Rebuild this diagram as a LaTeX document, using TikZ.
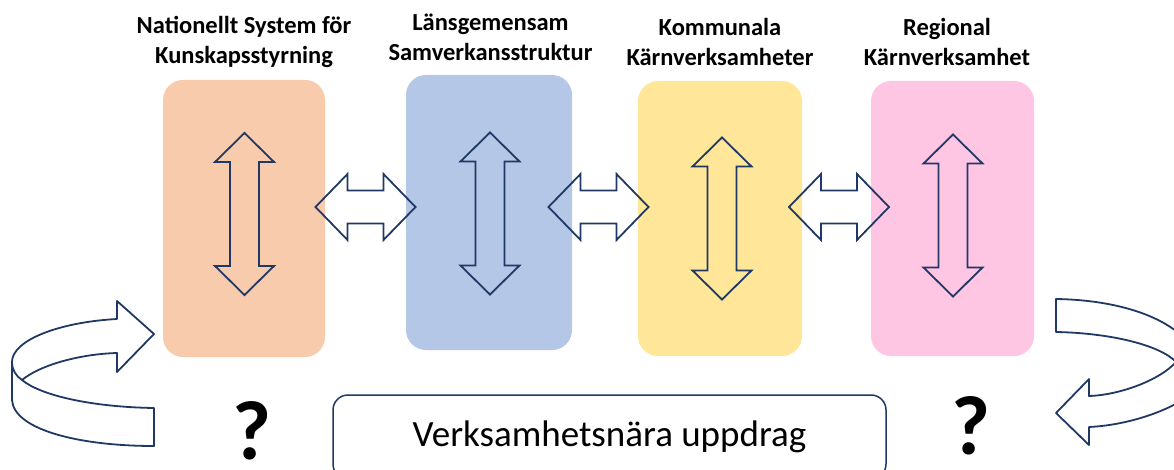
\documentclass[tikz,border=0pt]{standalone}
\usepackage{fontspec}
\setmainfont{Carlito}
\definecolor{navy}{HTML}{203864}
\definecolor{cOrange}{HTML}{F8CBAD}
\definecolor{cBlue}{HTML}{B4C7E7}
\definecolor{cYellow}{HTML}{FFE699}
\definecolor{cPink}{HTML}{FFC6E3}
\tikzset{
  ol/.style={draw=navy,line width=1.8pt,line join=miter},
  blk/.style={rounded corners=20pt,inner sep=0pt,draw=none},
  ttl/.style={font=\fontsize{24.5}{30}\selectfont\bfseries,align=center,inner sep=0pt},
  qm/.style={font=\fontsize{84}{84}\selectfont\bfseries,inner sep=0pt,text depth=0pt},
  vda/.pic={\draw[ol] (0,-81) -- (29.5,-52) -- (14.5,-52) -- (14.5,52) -- (29.5,52) -- (0,81)
            -- (-29.5,52) -- (-14.5,52) -- (-14.5,-52) -- (-29.5,-52) -- cycle;},
  hda/.pic={\draw[ol] (-50,0) -- (-18,-33) -- (-18,-16.5) -- (18,-16.5) -- (18,-33) -- (50,0)
            -- (18,33) -- (18,16.5) -- (-18,16.5) -- (-18,33) -- cycle;}
}
\begin{document}
\begin{tikzpicture}[x=1pt,y=-1pt]
\useasboundingbox (0,0) rectangle (1174,470);
\clip (0,0) rectangle (1174,470);

% coloured blocks
\node[blk,fill=cOrange,minimum width=162pt,minimum height=277pt] (nat) at (244,218.5) {};
\node[blk,fill=cBlue,minimum width=166pt,minimum height=275pt] (lan) at (489,212.5) {};
\node[blk,fill=cYellow,minimum width=164pt,minimum height=275pt] (kom) at (720,218.5) {};
\node[blk,fill=cPink,minimum width=163pt,minimum height=275pt] (reg) at (952.5,218.5) {};

% titles
\node[ttl] (tnat) at (244,42) {Nationellt System för\\Kunskapsstyrning};
\node[ttl] (tlan) at (490.5,37) {Länsgemensam\\Samverkansstruktur};
\node[ttl] (tkom) at (720,42) {Kommunala\\Kärnverksamheter};
\node[ttl] (treg) at (947,42) {Regional\\Kärnverksamhet};

% vertical double arrows inside the blocks
\pic at (244.5,214) {vda};
\pic at (490,213.5) {vda};
\pic at (722,218.5) {vda};
\pic at (953,215.5) {vda};

% horizontal double arrows between the blocks
\pic at (365.5,207) {hda};
\pic at (598.5,207) {hda};
\pic at (839,207) {hda};

% bottom box
\node[draw=navy,line width=1.5pt,rounded corners=15pt,minimum width=553pt,minimum height=84pt,
      font=\fontsize{37}{37}\selectfont,inner sep=0pt] (bot) at (609.5,437) {Verksamhetsnära uppdrag};

% question marks
\node[qm,anchor=base] (q1) at (252,459) {?};
\node[qm,anchor=base] (q2) at (971,454) {?};

% left curved arrow
\draw[ol,line join=round] (154,334) -- (117,301) -- (117,319)
  .. controls (60,322) and (12,340) .. (12,362)
  -- (12,400)
  .. controls (14,430) and (80,446) .. (154,446)
  -- (154,408)
  .. controls (90,407) and (40,395) .. (22,380)
  .. controls (40,365) and (80,354) .. (117,353)
  -- (117,372) -- cycle;
\draw[ol] (12,362) .. controls (12,370) and (16,376) .. (22,380);

% right curved arrow
\draw[ol,line join=round] (1190,345) .. controls (1170,318) and (1120,300) .. (1056,299)
  -- (1056,332)
  .. controls (1110,333) and (1160,345) .. (1176,362)
  .. controls (1160,380) and (1120,395) .. (1089,396)
  -- (1089,379) -- (1056,413) -- (1089,445) -- (1089,427)
  .. controls (1130,425) and (1170,410) .. (1190,395);
\end{tikzpicture}
\end{document}
